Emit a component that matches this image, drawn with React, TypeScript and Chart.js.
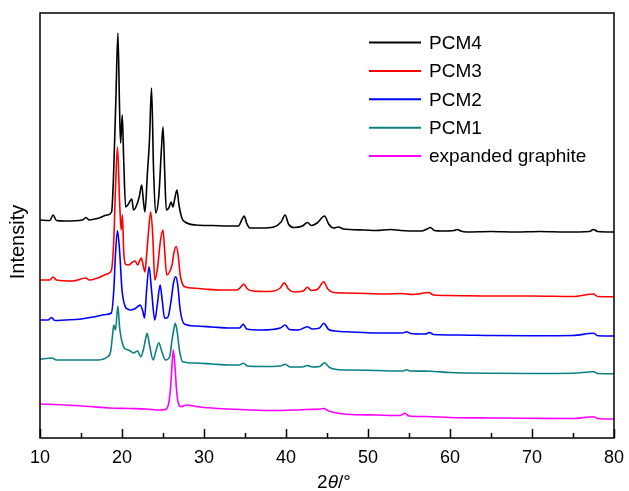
import React, { useEffect, useRef } from "react";
import { Chart, registerables } from "chart.js";

Chart.register(...registerables);

const seriesLabels = ["PCM4", "PCM3", "PCM2", "PCM1", "expanded graphite"];
const seriesColors = ["#000000", "#ff0000", "#0000ff", "#0b8080", "#ff00ff"];

const xTickValues = [10, 20, 30, 40, 50, 60, 70, 80];
const xMinorTickValues = [15, 25, 35, 45, 55, 65, 75];
const xAxisTitle = ["2", "θ", "/°"];
const yAxisTitle = "Intensity";

const pcm4Theta = [10, 11.2, 11.6, 12, 13, 15.2, 15.6, 16, 17, 18.2, 18.73, 18.95, 19.25, 19.5, 19.7, 19.83, 20.03, 20.2, 20.44, 20.7, 21.2, 21.4, 21.7, 22.1, 22.4, 22.6, 22.8, 23.1, 23.35, 23.6, 23.85, 24.1, 24.5, 24.8, 25.0, 25.2, 25.4, 25.7, 26.0, 26.2, 26.45, 26.7, 26.95, 27.3, 27.7, 29, 31, 33, 34.2, 34.6, 34.9, 35.2, 35.6, 37, 38.5, 39.4, 39.9, 40.3, 41, 42, 42.6, 43.1, 43.8, 44.7, 45.2, 45.8, 46.4, 47, 49.5, 51, 52.8, 54, 56.5, 57.2, 57.6, 58.1, 59, 60.5, 60.9, 61.3, 62, 65, 68, 71, 74, 77, 77.5, 78, 80];
const pcm4Intensity = [218, 217.5, 223, 217.5, 217, 218, 220.5, 218, 219.5, 223, 226, 258, 338, 405, 330, 295, 323, 280, 231, 233, 239, 228, 231, 241, 253, 238, 226, 265, 298, 350, 268, 225, 243, 288, 311, 268, 228, 230, 236, 231, 240, 248, 233, 220, 216, 213, 212.5, 212, 212, 218, 222, 215, 210, 210, 211, 216, 223, 214, 210.5, 212, 215.5, 212.5, 215, 222, 214, 210, 211, 209, 208, 207.5, 208.5, 207.5, 207, 209, 210.5, 207.5, 207, 207.5, 208.5, 207, 206, 206.5, 206, 206.5, 206, 206.5, 208.5, 206.5, 206];

const pcm3Theta = [10, 11.2, 11.6, 12, 14, 15.6, 16, 17, 18.2, 18.7, 19.0, 19.2, 19.45, 19.7, 19.9, 20.05, 20.2, 20.4, 20.8, 21.3, 21.6, 21.9, 22.2, 22.35, 22.6, 22.8, 23.0, 23.2, 23.5, 23.75, 24.0, 24.3, 24.7, 25.0, 25.2, 25.45, 25.8, 26.1, 26.35, 26.6, 26.85, 27.1, 27.6, 28.5, 30, 32, 34, 34.5, 34.85, 35.3, 36, 38, 39.3, 39.8, 40.3, 41, 42.1, 42.6, 43.1, 43.9, 44.6, 45.1, 45.8, 47, 50, 52, 54, 55.5, 57.4, 58, 60, 65, 70, 75, 77.5, 78, 80];
const pcm3Intensity = [158, 158, 161, 158, 157, 160, 158, 160, 164, 167.5, 198, 248, 291, 238, 208, 223, 188, 174, 173, 176, 177, 173, 178, 180, 172, 166, 183, 203, 226, 203, 158, 168, 198, 208, 188, 163, 166, 173, 186, 191.5, 183, 163, 151.5, 150, 149, 148, 148, 151, 154, 149, 147, 146.5, 150, 155.3, 149, 146, 147, 150.7, 147.5, 149, 156.3, 149, 145.5, 145, 144.5, 144, 144.5, 143.5, 145.5, 143, 142.5, 142, 142, 141.5, 144, 141.5, 141.3];

const pcm2Theta = [10, 11, 11.4, 11.8, 13, 15, 16.5, 18, 18.7, 19.0, 19.2, 19.45, 19.7, 20.0, 20.4, 20.7, 21.0, 21.5, 22.0, 22.2, 22.5, 22.75, 23.0, 23.3, 23.6, 24.0, 24.3, 24.65, 24.9, 25.2, 25.6, 26.0, 26.3, 26.56, 26.8, 27.1, 27.6, 29, 31, 33, 34.3, 34.8, 35.2, 37, 39.3, 39.9, 40.4, 41.5, 42.6, 43.2, 44.1, 44.6, 45.2, 46, 48, 51, 54.2, 54.7, 55.2, 57, 57.5, 58, 61, 65, 70, 75, 77.5, 78, 80];
const pcm2Intensity = [118, 118, 120.5, 117.5, 118, 119, 121, 123.5, 125, 148, 183, 207.3, 188, 148, 131.3, 129, 128, 129, 132, 133, 128, 120, 148, 171.3, 148, 118, 133, 153, 138, 119.7, 121, 138, 156, 161.3, 153, 128, 114, 112, 111, 110, 110, 113.7, 109, 108, 110, 113, 108.5, 108, 111.3, 109, 110, 114.7, 108.5, 107, 106, 105, 105, 106.3, 104.5, 104, 105.5, 103.5, 103, 102.5, 102.3, 102.5, 104.7, 102.3, 102];

const pcm1Theta = [10, 11.5, 12, 14, 17, 18.2, 18.6, 18.85, 19.0, 19.2, 19.5, 19.7, 19.9, 20.3, 20.8, 21.4, 21.9, 22.3, 22.6, 22.85, 23.07, 23.35, 23.8, 24.1, 24.5, 24.8, 25.3, 25.8, 26.1, 26.35, 26.5, 26.75, 27.0, 27.4, 29, 31, 33, 34.3, 34.8, 35.3, 37, 39.3, 39.9, 40.5, 42, 42.6, 43.2, 44.1, 44.7, 45.3, 46.2, 48, 51, 54.2, 54.7, 55.2, 57.5, 60, 65, 70, 75, 77.5, 78, 80];
const pcm1Intensity = [78.7, 80, 78, 78, 78, 81, 86, 103, 113, 108, 132, 111.3, 100, 89.7, 88, 85, 87, 81.3, 88, 98, 104.7, 93, 78, 86, 95.3, 88, 78, 81, 98, 110, 114.7, 105, 88, 76.3, 75, 74, 73, 73, 74.7, 72, 71.5, 72, 73.7, 71, 71, 72.5, 71, 71.5, 75.3, 70.5, 68.5, 68, 67.5, 67, 68.2, 67, 66.8, 65.5, 64.7, 64.5, 64.7, 66.3, 64.5, 64.3];

const egTheta = [10, 13, 16, 18.5, 21, 23, 24.5, 25.3, 25.7, 25.95, 26.1, 26.25, 26.45, 26.65, 26.9, 27.2, 27.9, 29, 30, 33, 35.6, 38, 41, 42.5, 44.2, 44.6, 45.2, 46.5, 48, 51, 53.9, 54.5, 55, 57, 60, 65, 70, 75, 77.5, 78, 80];
const egIntensity = [34, 33, 31.5, 30, 29.5, 29, 28, 28.5, 35, 53, 73, 88, 73, 48, 34, 31.3, 33, 31.5, 30.5, 29, 28, 27.5, 28, 28.5, 29, 29.5, 27, 24.5, 23.5, 23, 22.5, 24.7, 22, 21.5, 20.5, 20, 19.7, 19.5, 21.3, 19.5, 19];

const seriesTheta = [pcm4Theta, pcm3Theta, pcm2Theta, pcm1Theta, egTheta];
const seriesIntensity = [pcm4Intensity, pcm3Intensity, pcm2Intensity, pcm1Intensity, egIntensity];

const FONT = '"Liberation Sans", Arial, Helvetica, sans-serif';

const framePlugin = {
  id: "xrdFrame",
  afterDraw(chart: any) {
    const { ctx, chartArea } = chart;
    const { left, right, top, bottom } = chartArea;
    const xs = chart.scales.x;
    ctx.save();
    ctx.strokeStyle = "#000";
    ctx.lineWidth = 1.5;
    ctx.strokeRect(left, top, right - left, bottom - top);
    ctx.beginPath();
    for (const v of xTickValues) {
      const px = Math.round(xs.getPixelForValue(v)) + 0.5;
      ctx.moveTo(px, bottom);
      ctx.lineTo(px, bottom - 9);
    }
    for (const v of xMinorTickValues) {
      const px = Math.round(xs.getPixelForValue(v)) + 0.5;
      ctx.moveTo(px, bottom);
      ctx.lineTo(px, bottom - 5);
    }
    ctx.stroke();

    const ds = chart.data.datasets;
    const lineX0 = 369;
    const lineX1 = 421;
    const textX = 429;
    const rowY0 = 42.5;
    const rowStep = 28.4;
    ctx.font = "19px " + FONT;
    ctx.textBaseline = "middle";
    ctx.textAlign = "left";
    ds.forEach((d: any, i: number) => {
      const y = rowY0 + i * rowStep;
      ctx.strokeStyle = d.borderColor;
      ctx.lineWidth = 2;
      ctx.beginPath();
      ctx.moveTo(lineX0, y);
      ctx.lineTo(lineX1, y);
      ctx.stroke();
      ctx.fillStyle = "#000";
      ctx.fillText(d.label, textX, y + 1);
    });

    ctx.fillStyle = "#000";
    ctx.textBaseline = "alphabetic";
    const normal = "19px " + FONT;
    const italic = "italic 19px " + FONT;
    const parts = [
      { t: xAxisTitle[0], f: normal },
      { t: xAxisTitle[1], f: italic },
      { t: xAxisTitle[2], f: normal },
    ];
    let total = 0;
    for (const p of parts) {
      ctx.font = p.f;
      total += ctx.measureText(p.t).width;
    }
    let cx = 334 - total / 2;
    for (const p of parts) {
      ctx.font = p.f;
      ctx.fillText(p.t, cx, 488);
      cx += ctx.measureText(p.t).width;
    }

    ctx.save();
    ctx.translate(18, 242);
    ctx.rotate(-Math.PI / 2);
    ctx.font = "20px " + FONT;
    ctx.textAlign = "center";
    ctx.textBaseline = "middle";
    ctx.fillText(yAxisTitle, 0, 0);
    ctx.restore();

    ctx.restore();
  },
};

export default function App() {
  const canvasRef = useRef<HTMLCanvasElement | null>(null);

  useEffect(() => {
    const canvas = canvasRef.current;
    if (!canvas) return;
    const datasets = seriesLabels.map((label, i) => ({
      label,
      data: seriesTheta[i].map((x, j) => ({ x, y: seriesIntensity[i][j] })),
      borderColor: seriesColors[i],
      backgroundColor: seriesColors[i],
      borderWidth: 1.6,
      pointRadius: 0,
      fill: false,
      cubicInterpolationMode: "monotone" as const,
    }));
    const chart = new Chart(canvas, {
      type: "line",
      data: { datasets },
      options: {
        responsive: false,
        animation: false,
        devicePixelRatio: 1,
        layout: { padding: { left: 0, top: 13, right: 15, bottom: 0 } },
        plugins: {
          legend: { display: false },
          tooltip: { enabled: false },
        },
        scales: {
          x: {
            type: "linear",
            min: 10,
            max: 80,
            grid: { display: false, drawTicks: false },
            border: { display: false },
            ticks: {
              stepSize: 10,
              color: "#000",
              padding: 9,
              font: { family: FONT, size: 18 },
              maxRotation: 0,
              autoSkip: false,
            },
            afterFit: (s: any) => {
              s.height = 53;
              s.paddingLeft = 0;
              s.paddingRight = 0;
            },
          },
          y: {
            type: "linear",
            min: 0,
            max: 425,
            grid: { display: false, drawTicks: false },
            border: { display: false },
            ticks: { display: false },
            afterFit: (s: any) => {
              s.width = 40;
            },
          },
        },
      },
      plugins: [framePlugin],
    });
    return () => chart.destroy();
  }, []);

  return (
    <div style={{ position: "absolute", left: 0, top: 0, width: 629, height: 491, background: "#fff" }}>
      <canvas ref={canvasRef} width={629} height={491} style={{ display: "block" }} />
    </div>
  );
}
